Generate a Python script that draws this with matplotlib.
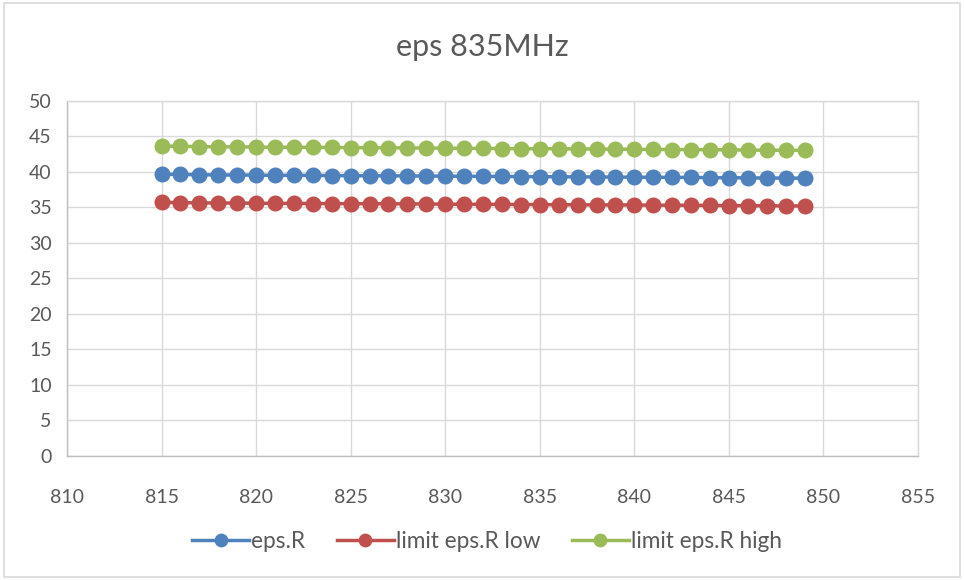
import matplotlib
matplotlib.use("Agg")
import matplotlib.pyplot as plt
from matplotlib.patches import Rectangle

freq_mhz = list(range(815, 850))
eps_r = [39.65, 39.62, 39.58, 39.55, 39.55, 39.52, 39.50, 39.50, 39.48, 39.47,
         39.45, 39.44, 39.43, 39.42, 39.40, 39.38, 39.36, 39.35, 39.34, 39.32,
         39.31, 39.30, 39.28, 39.27, 39.25, 39.24, 39.22, 39.21, 39.20, 39.18,
         39.16, 39.14, 39.12, 39.11, 39.10]
limit_low = [35.69, 35.66, 35.62, 35.60, 35.60, 35.57, 35.55, 35.55, 35.53, 35.52,
             35.51, 35.50, 35.49, 35.48, 35.46, 35.44, 35.42, 35.42, 35.41, 35.39,
             35.38, 35.37, 35.35, 35.34, 35.33, 35.32, 35.30, 35.29, 35.28, 35.26,
             35.24, 35.23, 35.21, 35.20, 35.19]
limit_high = [43.62, 43.58, 43.54, 43.51, 43.51, 43.47, 43.45, 43.45, 43.43, 43.42,
              43.40, 43.38, 43.37, 43.36, 43.34, 43.32, 43.30, 43.29, 43.27, 43.25,
              43.24, 43.23, 43.21, 43.20, 43.18, 43.16, 43.14, 43.13, 43.12, 43.10,
              43.08, 43.05, 43.03, 43.02, 43.01]

series_names = ["eps.R", "limit eps.R low", "limit eps.R high"]
series_colors = ["#4F81BD", "#C0504D", "#9BBB59"]
x_ticks = list(range(810, 860, 5))
y_ticks = list(range(0, 55, 5))

plt.rcParams["font.family"] = ["Lato", "DejaVu Sans"]
text_color = "#595959"

fig = plt.figure(figsize=(9.64, 5.8), dpi=100)
fig.patches.append(Rectangle((0.004, 0.005), 0.992, 0.99, transform=fig.transFigure,
                             fill=False, edgecolor="#D9D9D9", linewidth=1.2))

ax = fig.add_axes([67 / 964, 1 - 456 / 580, (918 - 67) / 964, (456 - 100.7) / 580])

for vals, name, col in zip([eps_r, limit_low, limit_high], series_names, series_colors):
    ax.plot(freq_mhz, vals, color=col, linewidth=2.5, marker="o", markersize=10.5,
            label=name, zorder=3)

ax.set_xlim(810, 855)
ax.set_ylim(0, 50)
ax.set_xticks(x_ticks)
ax.set_yticks(y_ticks)
ax.grid(True, color="#D9D9D9", linewidth=1.0, zorder=0)
ax.set_axisbelow(True)
for side, sp in ax.spines.items():
    sp.set_color("#D9D9D9")
    sp.set_linewidth(1.0)
ax.spines["bottom"].set_color("#BFBFBF")
ax.spines["left"].set_color("#BFBFBF")
ax.tick_params(axis="both", length=0, labelsize=14, colors=text_color)
ax.tick_params(axis="x", pad=24)
ax.tick_params(axis="y", pad=11)

fig.text(0.5, 1 - 47 / 580, "eps 835MHz", ha="center", va="center",
         fontsize=22, color=text_color)

fig.legend(loc="center", bbox_to_anchor=(487 / 964, 1 - 541 / 580), ncol=3,
           frameon=False, fontsize=16.3, labelcolor=text_color,
           handlelength=2.5, handletextpad=0.1, columnspacing=1.4,
           markerscale=0.85)

fig.savefig("out.png", dpi=100)
